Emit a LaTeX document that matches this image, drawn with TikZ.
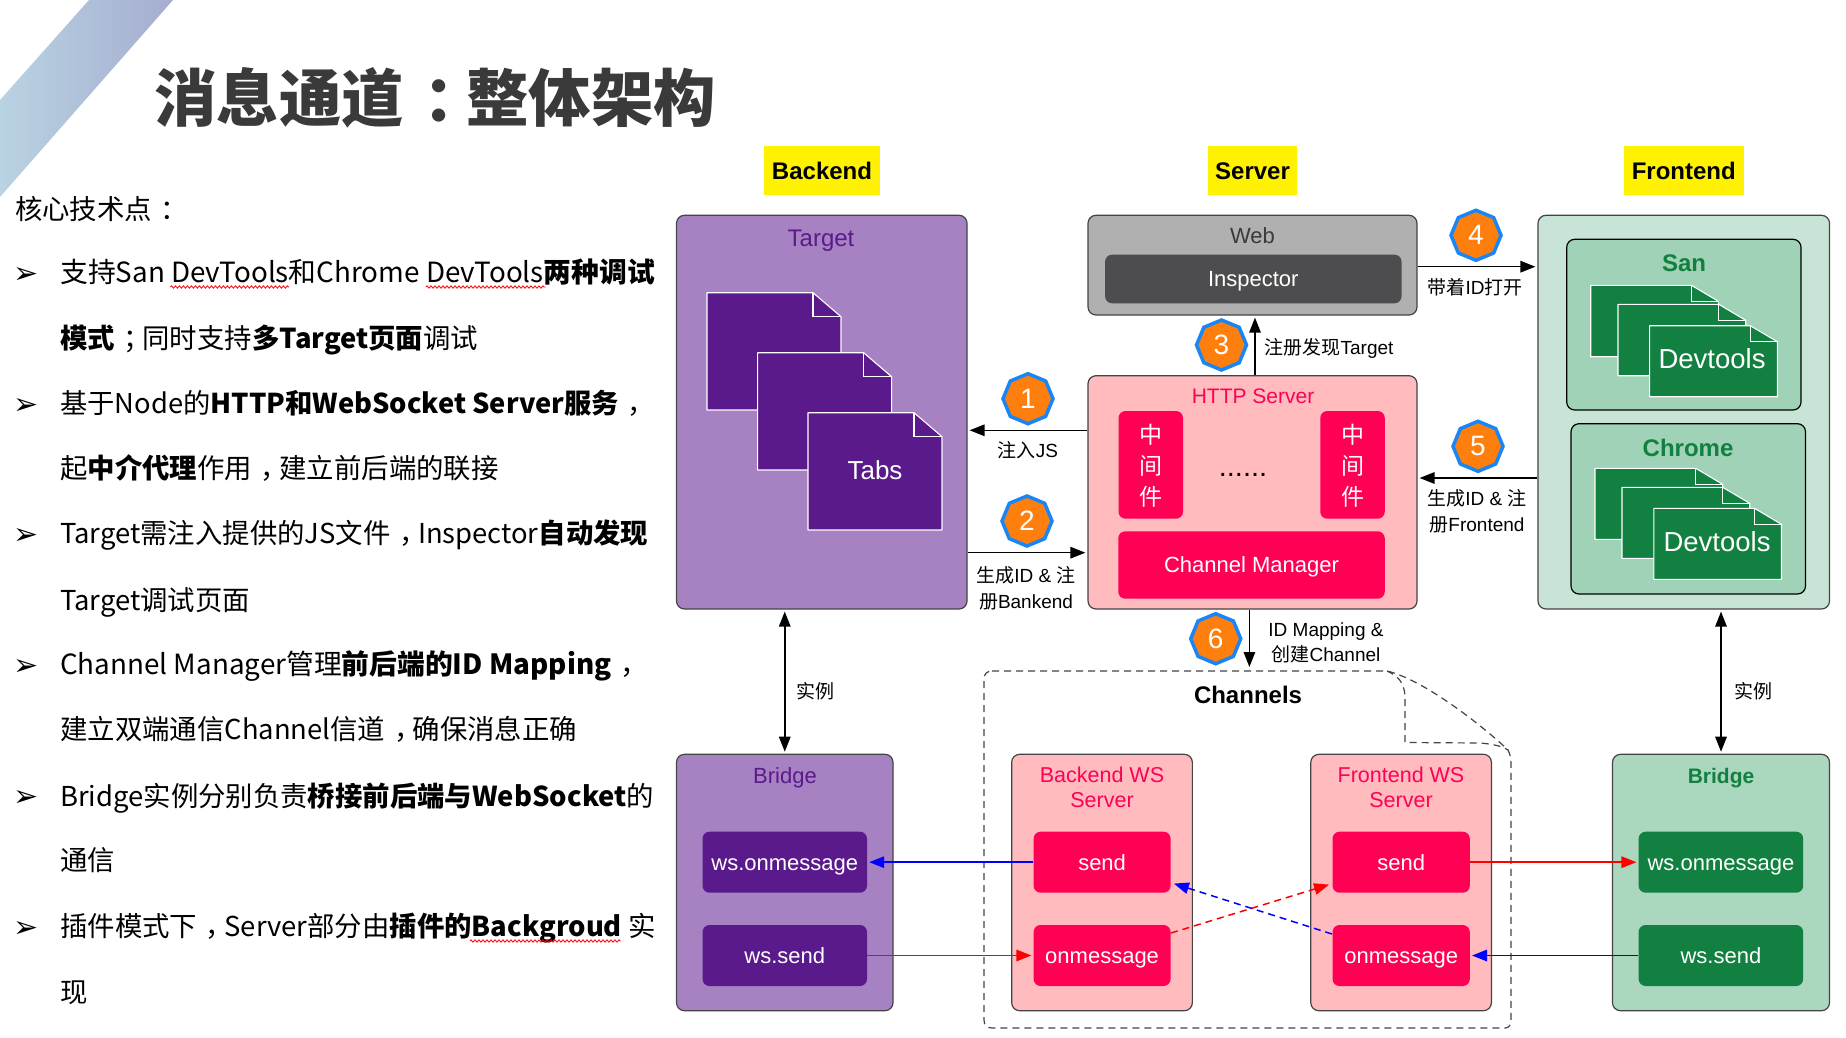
\documentclass[tikz,border=0pt]{standalone}
\usepackage{fontspec}
\setmainfont{Liberation Sans}
\newfontfamily\cjk{Noto Sans CJK SC}
\newfontfamily\dejavu{DejaVu Sans}
\usetikzlibrary{arrows.meta,shapes.geometric,decorations.pathmorphing}
\newcommand{\fsz}[1]{\fontsize{#1}{#1}\selectfont}
\newcommand{\midp}[1]{\hspace{.32em}#1\hspace{-.32em}}
\newcommand{\lift}{\rule[-.21em]{0pt}{1.14em}}
\newcommand{\sheet}[7]{%
  \draw[white, line width=1.1pt, fill=#7, line join=round]
    (#1,#2) -- (#1+#3-#5,#2) -- (#1+#3,#2+#6) -- (#1+#3,#2+#4) -- (#1,#2+#4) -- cycle;
  \draw[white, line width=1.1pt] (#1+#3-#5,#2) -- (#1+#3-#5,#2+#6) -- (#1+#3,#2+#6);
}
\definecolor{purpleL}{HTML}{A782C3}
\definecolor{purpleD}{HTML}{5A1A8B}
\definecolor{pinkL}{HTML}{FFBBBE}
\definecolor{pinkD}{HTML}{FF0055}
\definecolor{greenP}{HTML}{C8E4D6}
\definecolor{greenL}{HTML}{9FD2B6}
\definecolor{greenB}{HTML}{ABD7BF}
\definecolor{greenD}{HTML}{118040}
\definecolor{grayL}{HTML}{B0B0B0}
\definecolor{grayD}{HTML}{4D4C4E}
\definecolor{inkC}{HTML}{3A3A3A}
\definecolor{edgeC}{HTML}{444444}
\definecolor{badgeF}{HTML}{FF7F0E}
\definecolor{badgeE}{HTML}{1A86F5}
\definecolor{stripeA}{HTML}{B9D3E2}
\definecolor{stripeB}{HTML}{A5ADD0}
\tikzset{
  panel/.style={draw=edgeC, line width=1.2pt, rounded corners=8pt, inner sep=0pt},
  inbox/.style={draw=none, rounded corners=7pt, text=white, inner sep=0pt, font=\fsz{22}, execute at begin node=\lift},
  lbl/.style={inner sep=0pt, font=\fsz{23}, execute at begin node=\lift},
  note/.style={lbl, font=\fsz{19}, text=black},
  head/.style={inner sep=0pt, fill=yellow, font=\fsz{24}\bfseries, execute at begin node=\lift},
  badge/.style={regular polygon, regular polygon sides=8, shape border rotate=22.5, draw=badgeE, fill=badgeF,
    line width=3.5pt, minimum size=50pt, inner sep=0pt, text=white, font=\fsz{28}},
  flow/.style={-{Triangle[length=15pt,width=11.5pt]}, line width=1.5pt, black, shorten >=2pt},
  biflow/.style={{Triangle[length=15pt,width=11.5pt]}-{Triangle[length=15pt,width=11.5pt]}, line width=1.5pt, black, shorten >=2pt, shorten <=2pt},
  redflow/.style={flow, red},
  blueflow/.style={flow, blue},
  crossline/.style={dash pattern=on 7pt off 5pt},
  point/.style={anchor=base west, inner sep=0pt, font=\cjk\fsz{27.4}, text=black},
  tick/.style={anchor=base, inner sep=0pt, font=\dejavu\fsz{30}, text=black},
  squiggle/.style={red, line width=.8pt, decorate, decoration={zigzag, segment length=4pt, amplitude=1.2pt}}
}
\begin{document}
\begin{tikzpicture}[x=1pt, y=-1pt]
  \useasboundingbox (0,0) rectangle (1846,1038);
  \shade[left color=stripeA, right color=stripeB] (89,0) -- (173,0) -- (0,197) -- (0,100) -- cycle;
  \node[inner sep=0pt, anchor=west, font=\cjk\bfseries\fsz{62.4}, text=inkC] (title) at (154,98) {消息通道\midp{：}整体架构};

  \node[point] (intro) at (15,219) {核心技术点\midp{：}};
  \node[tick] (tick1) at (26,283) {➢};
  \node[point, font=\cjk\fsz{27.8}] (line1) at (60,282) {支持San DevTools和Chrome DevTools\textbf{两种调试}};
  \node[point] (line2) at (60,348) {\textbf{模式}\midp{；}同时支持\textbf{多Target页面}调试};
  \node[tick] (tick2) at (26,414) {➢};
  \node[point, font=\cjk\fsz{27.3}] (line3) at (60,413.5) {基于Node的\textbf{HTTP和WebSocket Server服务}\midp{，}};
  \node[point] (line4) at (60,478.5) {起\textbf{中介代理}作用\midp{，}建立前后端的联接};
  \node[tick] (tick3) at (26,544) {➢};
  \node[point] (line5) at (60,543.5) {Target需注入提供的JS文件\midp{，}Inspector\textbf{自动发现}};
  \node[point] (line6) at (60,610) {Target调试页面};
  \node[tick] (tick4) at (26,675) {➢};
  \node[point, font=\cjk\fsz{27.8}] (line7) at (60,674.5) {Channel Manager管理\textbf{前后端的ID Mapping}\midp{，}};
  \node[point] (line8) at (60,739.5) {建立双端通信Channel信道\midp{，}确保消息正确};
  \node[tick] (tick5) at (26,806) {➢};
  \node[point] (line9) at (60,806) {Bridge实例分别负责\textbf{桥接前后端与WebSocket}的};
  \node[point] (line10) at (60,870) {通信};
  \node[tick] (tick6) at (26,937) {➢};
  \node[point] (line11) at (60,936.5) {插件模式下\midp{，}Server部分由\textbf{插件的Backgroud} 实};
  \node[point] (line12) at (60,1002) {现};
  \draw[squiggle] (170.4,287) -- (289,287);
  \draw[squiggle] (426,287) -- (545.5,287);
  \draw[squiggle] (470,941) -- (621,941);

  \node[head, minimum width=116pt, minimum height=49pt] (backendHead) at (822,170.5) {Backend};
  \node[head, minimum width=89pt, minimum height=49pt] (serverHead) at (1252.5,170.5) {Server};
  \node[head, minimum width=119.6pt, minimum height=49pt] (frontendHead) at (1683.8,170.5) {Frontend};

  % backend
  \node[panel, fill=purpleL, minimum width=290.5pt, minimum height=393.7pt] (target) at (821.75,412.15) {};
  \node[lbl, text=purpleD, font=\fsz{24}] (targetLbl) at (821,238) {Target};
  \sheet{707}{292.7}{134}{117.3}{28}{24}{purpleD}
  \sheet{757.6}{352.7}{134}{117.3}{28}{24}{purpleD}
  \sheet{808}{412.7}{134}{117.3}{28}{24}{purpleD}
  \node[lbl, text=white, font=\fsz{26}] (tabsLbl) at (875,470) {Tabs};

  % server
  \node[panel, fill=grayL, minimum width=329pt, minimum height=99.7pt] (web) at (1252.5,265.15) {};
  \node[lbl, text=inkC, font=\fsz{22}] (webLbl) at (1252.5,236) {Web};
  \node[inbox, fill=grayD, minimum width=296.5pt, minimum height=48.6pt] (inspector) at (1253.3,279) {Inspector};
  \node[panel, fill=pinkL, minimum width=329pt, minimum height=233.3pt] (http) at (1252.5,492.35) {};
  \node[lbl, text=pinkD, font=\fsz{21}] (httpLbl) at (1253,396) {HTTP Server};
  \node[inbox, fill=pinkD, minimum width=64.5pt, minimum height=107.7pt] (wareL) at (1150.75,464.85) {};
  \node[inbox, fill=pinkD, minimum width=64.5pt, minimum height=107.7pt] (wareR) at (1352.5,464.85) {};
  \node[lbl, text=white, font=\cjk\fsz{23}] (wareL1) at (wareL |- 0,435.5) {中};
  \node[lbl, text=white, font=\cjk\fsz{23}] (wareL2) at (wareL |- 0,466) {间};
  \node[lbl, text=white, font=\cjk\fsz{23}] (wareL3) at (wareL |- 0,497) {件};
  \node[lbl, text=white, font=\cjk\fsz{23}] (wareR1) at (wareR |- 0,435.5) {中};
  \node[lbl, text=white, font=\cjk\fsz{23}] (wareR2) at (wareR |- 0,466) {间};
  \node[lbl, text=white, font=\cjk\fsz{23}] (wareR3) at (wareR |- 0,497) {件};
  \node[lbl, text=black, font=\fsz{29}] (wareDots) at (1243,466) {......};
  \node[inbox, fill=pinkD, minimum width=266.5pt, minimum height=67.4pt] (manager) at (1251.5,565) {Channel Manager};

  % frontend
  \node[panel, fill=greenP, minimum width=291.5pt, minimum height=393.7pt] (frontend) at (1683.75,412.15) {};
  \node[panel, draw=black, fill=greenL, minimum width=234.3pt, minimum height=170.7pt] (san) at (1683.85,324.65) {};
  \node[lbl, text=greenD, font=\fsz{24}\bfseries] (sanLbl) at (1684,263) {San};
  \sheet{1590.7}{285.3}{127.7}{71.4}{27}{16}{greenD}
  \sheet{1618}{304.3}{127.7}{71.4}{27}{16}{greenD}
  \sheet{1649.6}{325.7}{127.7}{71}{27}{16}{greenD}
  \node[lbl, text=white, font=\fsz{27.5}] (sanDev) at (1712,359) {Devtools};
  \node[panel, draw=black, fill=greenL, minimum width=234.5pt, minimum height=170.3pt] (chrome) at (1688.25,508.85) {};
  \node[lbl, text=greenD, font=\fsz{24}\bfseries] (chromeLbl) at (1688,448) {Chrome};
  \sheet{1595}{468.3}{127.7}{71}{27}{16}{greenD}
  \sheet{1622}{487.3}{127.7}{71}{27}{16}{greenD}
  \sheet{1653.8}{508.3}{127.7}{71}{27}{16}{greenD}
  \node[lbl, text=white, font=\fsz{27.5}] (chromeDev) at (1717,542) {Devtools};

  % channels
  \draw[edgeC, line width=1.2pt, dash pattern=on 7pt off 5pt]
    (992,671) -- (1387,671) .. controls (1425,680) and (1485,728) .. (1508,750)
    .. controls (1510,754) and (1511,758) .. (1511,764) -- (1511,1020)
    .. controls (1511,1025) and (1509,1028) .. (1505,1028) -- (992,1028)
    .. controls (987,1028) and (984,1025) .. (984,1020) -- (984,679)
    .. controls (984,674) and (987,671) .. (992,671);
  \draw[edgeC, line width=1.2pt, dash pattern=on 7pt off 5pt]
    (1387,671) .. controls (1398,676) and (1404,682) .. (1405,696) -- (1405,742.5)
    -- (1480,743) .. controls (1492,744) and (1502,746) .. (1508,750);
  \node[lbl, text=black, font=\fsz{24}\bfseries] (channelsLbl) at (1248,695) {Channels};

  % bottom row
  \node[panel, fill=purpleL, minimum width=216.5pt, minimum height=256.4pt] (bridgeL) at (784.75,882.5) {};
  \node[lbl, text=purpleD, font=\fsz{22}] (bridgeLLbl) at (785,776) {Bridge};
  \node[inbox, fill=purpleD, minimum width=164.5pt, minimum height=61pt] (onmsgL) at (784.75,862.2) {ws.onmessage};
  \node[inbox, fill=purpleD, minimum width=164.5pt, minimum height=61pt] (wsSendL) at (784.75,955.5) {ws.send};
  \node[panel, fill=pinkL, minimum width=180.7pt, minimum height=256.4pt] (backWs) at (1102,882.5) {};
  \node[lbl, text=pinkD, font=\fsz{21.5}] (backWs1) at (1102,775) {Backend WS};
  \node[lbl, text=pinkD, font=\fsz{21.5}] (backWs2) at (1102,800) {Server};
  \node[inbox, fill=pinkD, minimum width=137pt, minimum height=61pt] (backSend) at (1102.1,862.2) {send};
  \node[inbox, fill=pinkD, minimum width=137pt, minimum height=61pt] (backMsg) at (1102.1,955.5) {onmessage};
  \node[panel, fill=pinkL, minimum width=180.6pt, minimum height=256.4pt] (frontWs) at (1401.1,882.5) {};
  \node[lbl, text=pinkD, font=\fsz{21.5}] (frontWs1) at (1401,775) {Frontend WS};
  \node[lbl, text=pinkD, font=\fsz{21.5}] (frontWs2) at (1401,800) {Server};
  \node[inbox, fill=pinkD, minimum width=137.3pt, minimum height=61pt] (frontSend) at (1401.15,862.2) {send};
  \node[inbox, fill=pinkD, minimum width=137.3pt, minimum height=61pt] (frontMsg) at (1401.15,955.5) {onmessage};
  \node[panel, fill=greenB, minimum width=217pt, minimum height=256.4pt] (bridgeR) at (1721,882.5) {};
  \node[lbl, text=greenD, font=\fsz{21}\bfseries] (bridgeRLbl) at (1721,776) {Bridge};
  \node[inbox, fill=greenD, minimum width=164.6pt, minimum height=61pt] (onmsgR) at (1720.9,862.2) {ws.onmessage};
  \node[inbox, fill=greenD, minimum width=164.6pt, minimum height=61pt] (wsSendR) at (1720.9,955.5) {ws.send};

  % connectors
  \coordinate (injectY) at (1028,430.3);
  \coordinate (registerY) at (1028,552.7);
  \coordinate (discoverX) at (1255,345);
  \coordinate (openY) at (1476,266.7);
  \coordinate (frontY) at (1478,478);
  \coordinate (mapX) at (1249.4,669);
  \coordinate (crossA) at (1171,933);
  \coordinate (crossB) at (1331,884);
  \coordinate (crossC) at (1332,934);
  \coordinate (crossD) at (1172,883);
  \draw[flow] (http.west |- injectY) -- (target.east |- injectY);
  \draw[flow] (target.east |- registerY) -- (http.west |- registerY);
  \draw[flow] (http.north -| discoverX) -- (web.south -| discoverX);
  \draw[flow] (web.east |- openY) -- (frontend.west |- openY);
  \draw[flow] (frontend.west |- frontY) -- (http.east |- frontY);
  \draw[flow] (http.south -| mapX) -- (mapX);
  \draw[biflow] (bridgeL.north) -- (bridgeL.north |- target.south);
  \draw[biflow] (bridgeR.north) -- (bridgeR.north |- frontend.south);
  \draw[blueflow] (backSend.west) -- (onmsgL.east);
  \draw[redflow] (wsSendL.east) -- (backMsg.west);
  \draw[redflow] (frontSend.east) -- (onmsgR.west);
  \draw[blueflow] (wsSendR.west) -- (frontMsg.east);
  \draw[redflow, crossline] (crossA) -- (crossB);
  \draw[blueflow, crossline] (crossC) -- (crossD);

  % step numbers
  \node[badge] (step1) at (1028,398.7) {1};
  \node[badge] (step2) at (1027,521) {2};
  \node[badge] (step3) at (1221.5,345) {3};
  \node[badge] (step4) at (1476,235.3) {4};
  \node[badge] (step5) at (1478,446.3) {5};
  \node[badge] (step6) at (1215.7,638.7) {6};

  \node[note] (noteInject) at (1028,451) {{\cjk 注入}JS};
  \node[note] (noteReg1) at (1026,576) {{\cjk 生成}ID \& {\cjk 注}};
  \node[note] (noteReg2) at (1026,602) {{\cjk 册}Bankend};
  \node[note] (noteDisc) at (1329,348) {{\cjk 注册发现}Target};
  \node[note] (noteOpen) at (1475,288) {{\cjk 带着}ID{\cjk 打开}};
  \node[note] (noteFront1) at (1477,499) {{\cjk 生成}ID \& {\cjk 注}};
  \node[note] (noteFront2) at (1477,525) {{\cjk 册}Frontend};
  \node[note] (noteMap1) at (1326,630) {ID Mapping \&};
  \node[note] (noteMap2) at (1326,655) {{\cjk 创建}Channel};
  \node[note] (noteInstL) at (815,692) {{\cjk 实例}};
  \node[note] (noteInstR) at (1753,692) {{\cjk 实例}};
\end{tikzpicture}
\end{document}
